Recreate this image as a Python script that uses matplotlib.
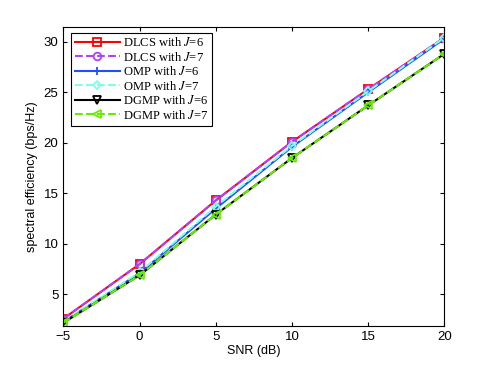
import matplotlib
matplotlib.use("Agg")
import matplotlib.pyplot as plt

snr = [-5, 0, 5, 10, 15, 20]

dlcs_j6 = [2.6, 8.0, 14.3, 20.1, 25.3, 30.4]
dlcs_j7 = [2.6, 8.0, 14.3, 20.1, 25.3, 30.4]
omp_j6 = [2.3, 7.1, 13.5, 19.6, 25.0, 30.3]
omp_j7 = [2.3, 7.2, 13.7, 19.7, 25.1, 30.4]
dgmp_j6 = [2.2, 6.9, 12.9, 18.5, 23.7, 28.8]
dgmp_j7 = [2.2, 6.9, 12.9, 18.5, 23.7, 28.8]

labels = [
    "DLCS with $J$=6",
    "DLCS with $J$=7",
    "OMP with $J$=6",
    "OMP with $J$=7",
    "DGMP with $J$=6",
    "DGMP with $J$=7",
]

plt.rcParams["font.family"] = ["Liberation Sans", "DejaVu Sans"]
plt.rcParams["mathtext.fontset"] = "stix"

fig = plt.figure(figsize=(4.91, 3.69), dpi=100)
ax = fig.add_axes([0.129, 0.117, 0.776, 0.811])

series = [dlcs_j6, dlcs_j7, omp_j6, omp_j7, dgmp_j6, dgmp_j7]
styles = [
    dict(color="#ff0000", ls="-", marker="s", mfc="none"),
    dict(color="#b040ff", ls="--", marker="o", mfc="none"),
    dict(color="#1f4fff", ls="-", marker="+", mfc="none"),
    dict(color="#80ffe8", ls="--", marker="D", mfc="none", ms=4.5),
    dict(color="#000000", ls="-", marker="v", mfc="none"),
    dict(color="#66ee00", ls="--", marker="<", mfc="none"),
]

for vals, lab, st in zip(series, labels, styles):
    kw = dict(lw=1.5, ms=5.5, mew=1.3)
    kw.update(st)
    ax.plot(snr, vals, label=lab, **kw)

ax.set_xlim(-5, 20)
ax.set_ylim(1.9, 31.5)
ax.set_xticks([-5, 0, 5, 10, 15, 20])
ax.set_xticklabels(["\u22125", "0", "5", "10", "15", "20"])
ax.set_yticks([5, 10, 15, 20, 25, 30])
ax.tick_params(direction="in", length=3, labelsize=9.5, top=True, right=True)
for sp in ax.spines.values():
    sp.set_linewidth(0.8)
ax.set_xlabel("SNR (dB)", fontsize=9, labelpad=2)
ax.set_ylabel("spectral efficiency (bps/Hz)", fontsize=9, labelpad=4)

leg = ax.legend(loc="upper left", bbox_to_anchor=(0.02, 0.98), fancybox=False,
                edgecolor="black", framealpha=1, borderaxespad=0,
                prop={"family": ["Liberation Serif", "DejaVu Serif"], "size": 9},
                handlelength=3.6, handletextpad=0.3, labelspacing=0.12,
                borderpad=0.3)
leg.get_frame().set_linewidth(0.8)

fig.savefig("out.png", dpi=100)
